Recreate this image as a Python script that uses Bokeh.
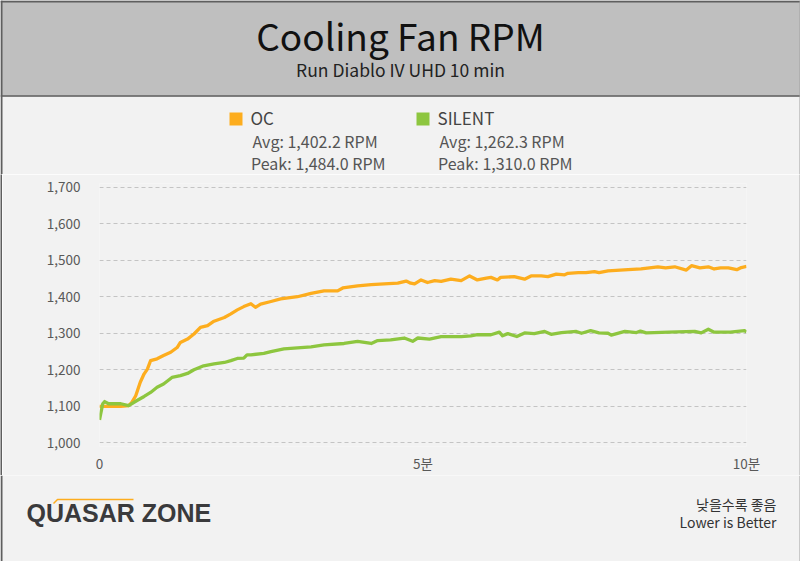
from bokeh.plotting import figure
from bokeh.layouts import column, row
from bokeh.models import Range1d, FixedTicker
from bokeh.core.properties import value
from bokeh.embed import file_html
from bokeh.resources import INLINE

FONT = "Noto Sans CJK KR"
ORANGE = "#FDAD1E"
GREEN = "#8DC63F"
BG = "#F2F2F2"
HEAD_BG = "#BFBFBF"
EDGE = "#5F5F5F"
EDGE_R = "#A0A0A0"

# ---------------- data ----------------
chart_title = "Cooling Fan RPM"
chart_subtitle = "Run Diablo IV UHD 10 min"
series_names = ["OC", "SILENT"]
series_avg = ["Avg: 1,402.2 RPM", "Avg: 1,262.3 RPM"]
series_peak = ["Peak: 1,484.0 RPM", "Peak: 1,310.0 RPM"]
note_ko = "낮을수록 좋음"
note_en = "Lower is Better"
logo_text = "QUASAR ZONE"

y_ticks = [1000, 1100, 1200, 1300, 1400, 1500, 1600, 1700]
y_tick_labels = ["1,000", "1,100", "1,200", "1,300", "1,400", "1,500", "1,600", "1,700"]
x_ticks = [0, 5, 10]
x_tick_labels = ["0", "5분", "10분"]

minutes_oc = [0, 0.33, 0.45, 0.50, 0.56, 0.63, 0.69, 0.74, 0.79, 0.89, 0.99, 1.10, 1.20, 1.25,
              1.36, 1.46, 1.56, 1.67, 1.77, 1.93, 2.03, 2.13, 2.23, 2.34, 2.41, 2.49, 2.65,
              2.80, 3.06, 3.27, 3.47, 3.68, 3.76, 3.99, 4.20, 4.40, 4.61, 4.74, 4.81, 4.87,
              4.97, 5.07, 5.18, 5.28, 5.43, 5.59, 5.72, 5.84, 5.98, 6.05, 6.15, 6.20, 6.41,
              6.57, 6.67, 6.83, 6.93, 7.06, 7.19, 7.24, 7.40, 7.52, 7.65, 7.72, 7.86, 8.17,
              8.37, 8.63, 8.75, 8.89, 9.07, 9.15, 9.28, 9.41, 9.50, 9.60, 9.72, 9.85, 9.92, 10.0]
rpm_oc = [1100, 1100, 1102, 1111, 1129, 1166, 1189, 1202, 1225, 1230, 1239, 1248, 1261, 1275,
          1284, 1298, 1316, 1321, 1333, 1343, 1353, 1364, 1373, 1381, 1371, 1380, 1387,
          1394, 1400, 1409, 1416, 1416, 1424, 1430, 1433, 1435, 1437, 1443, 1437, 1435,
          1446, 1439, 1444, 1442, 1448, 1444, 1457, 1446, 1451, 1453, 1446, 1453, 1455,
          1448, 1457, 1457, 1455, 1462, 1460, 1464, 1466, 1466, 1469, 1466, 1471, 1474,
          1476, 1482, 1479, 1482, 1473, 1485, 1479, 1482, 1476, 1479, 1479, 1474, 1480, 1483]

minutes_silent = [0, 0.05, 0.08, 0.14, 0.33, 0.45, 0.58, 0.69, 0.79, 0.89, 0.99, 1.12, 1.25,
                  1.36, 1.46, 1.61, 1.77, 1.93, 2.03, 2.13, 2.23, 2.28, 2.34, 2.54, 2.65, 2.85,
                  3.06, 3.27, 3.47, 3.78, 3.99, 4.20, 4.30, 4.50, 4.71, 4.84, 4.92, 5.10, 5.28,
                  5.59, 5.74, 5.84, 6.05, 6.18, 6.23, 6.31, 6.45, 6.57, 6.72, 6.88, 6.98, 7.14,
                  7.37, 7.45, 7.59, 7.72, 7.86, 7.91, 8.12, 8.30, 8.36, 8.45, 8.80, 9.20, 9.30,
                  9.41, 9.50, 9.75, 9.97, 10.0]
rpm_silent = [1063, 1107, 1113, 1107, 1107, 1102, 1116, 1127, 1138, 1152, 1161, 1179, 1184,
              1190, 1200, 1211, 1216, 1220, 1225, 1231, 1232, 1241, 1241, 1245, 1250, 1257,
              1260, 1263, 1268, 1272, 1278, 1272, 1280, 1282, 1287, 1278, 1287, 1284, 1291,
              1291, 1293, 1296, 1296, 1303, 1293, 1299, 1291, 1301, 1299, 1305, 1297, 1302,
              1305, 1300, 1307, 1301, 1300, 1295, 1305, 1302, 1306, 1301, 1303, 1305, 1301,
              1311, 1303, 1303, 1307, 1304]

W = 800
# Bokeh's SVG "alphabetic" text sits about 0.41 em lower than asked; compensate
SHIFT = 0.41


def blank(width, height, fill=BG):
    f = figure(width=width, height=height, x_range=Range1d(0, width), y_range=Range1d(height, 0),
               min_border=0, toolbar_location=None, output_backend="svg", title=None,
               x_axis_location=None, y_axis_location=None)
    f.frame_align = False
    f.grid.visible = False
    f.outline_line_color = None
    f.background_fill_color = fill
    f.border_fill_color = fill
    return f


def put(fig, x, y, txt, size, color, align="left", font=FONT, style="normal"):
    fig.text(x=[x], y=[y - SHIFT * size], text=[txt], text_font=value(font),
             text_font_size=f"{size}px", text_font_style=style, text_align=align,
             text_baseline="alphabetic", text_color=color)


# ---------------- header (title + legend) ----------------
H1 = 174
hdr = blank(W, H1)
hdr.quad(left=0, right=W, top=0, bottom=96, fill_color=HEAD_BG, line_color=None)
hdr.segment(x0=[0], y0=[1], x1=[W], y1=[1], line_color=EDGE, line_width=2)
hdr.segment(x0=[0], y0=[95.5], x1=[W], y1=[95.5], line_color=EDGE, line_width=1.5)
hdr.segment(x0=[1, 799.5], y0=[0, 0], x1=[1, 799.5], y1=[H1, H1], line_color=[EDGE, EDGE_R],
            line_width=[2, 1])

put(hdr, 400, 49.5, chart_title, 37, "#111111", align="center")
put(hdr, 400, 76, chart_subtitle, 17.5, "#222222", align="center")

legend_x = [229, 416]
colors = [ORANGE, GREEN]
for i in range(2):
    lx = legend_x[i]
    hdr.quad(left=lx, right=lx + 13, top=112, bottom=125, fill_color=colors[i], line_color=None)
    put(hdr, lx + 21, 124, series_names[i], 17, "#444444")
    put(hdr, lx + 23, 146.7, series_avg[i], 16, "#555555")
    put(hdr, lx + 21.5, 169.3, series_peak[i], 16, "#555555")

# ---------------- main chart ----------------
H2 = 301
p = figure(width=W - 3, height=H2, x_range=Range1d(0, 10), y_range=Range1d(990, 1710),
           min_border_left=97, min_border_right=53, min_border_top=9, min_border_bottom=29,
           toolbar_location=None, output_backend="svg", title=None)
p.frame_align = False
p.background_fill_color = BG
p.border_fill_color = BG
p.outline_line_color = None

p.xaxis.ticker = FixedTicker(ticks=x_ticks)
p.xaxis.major_label_overrides = {t: l for t, l in zip(x_ticks, x_tick_labels)}
p.yaxis.ticker = FixedTicker(ticks=y_ticks)
p.yaxis.major_label_overrides = {t: l for t, l in zip(y_ticks, y_tick_labels)}
for ax in (p.xaxis[0], p.yaxis[0]):
    ax.axis_line_color = None
    ax.major_tick_line_color = None
    ax.minor_tick_line_color = None
    ax.major_tick_out = 0
    ax.major_tick_in = 0
    ax.major_label_text_font = FONT
    ax.major_label_text_font_size = "13.5px"
    ax.major_label_text_color = "#595959"
p.xaxis.major_label_standoff = 6
p.yaxis.major_label_standoff = 19

p.xgrid.visible = False
p.ygrid.ticker = FixedTicker(ticks=y_ticks)
p.ygrid.grid_line_color = "#C4C4C4"
p.ygrid.grid_line_dash = "4 3"
p.ygrid.grid_line_width = 1

p.line(minutes_oc, rpm_oc, line_color=ORANGE, line_width=3.3, line_join="round")
p.line(minutes_silent, rpm_silent, line_color=GREEN, line_width=3.3, line_join="round")

left_edge = blank(2, H2, EDGE)
right_edge = blank(1, H2, EDGE_R)
middle = row(left_edge, p, right_edge, spacing=0)

# ---------------- footer ----------------
H3 = 86
ftr = blank(W, H3)
ftr.segment(x0=[1, 799.5], y0=[0, 0], x1=[1, 799.5], y1=[H3, H3], line_color=[EDGE, EDGE_R],
            line_width=[2, 1])
ftr.line(x=[53, 57, 133], y=[28, 24, 24], line_color=ORANGE, line_width=1.5)
put(ftr, 26, 47.7, logo_text, 25, "#3A3A3C", font="Liberation Sans", style="bold")
put(ftr, 776, 34, note_ko, 14, "#333333", align="right")
put(ftr, 776, 52, note_en, 14, "#333333", align="right")

layout = column(hdr, middle, ftr, spacing=0)
open("out.html", "w").write(file_html(layout, INLINE))
